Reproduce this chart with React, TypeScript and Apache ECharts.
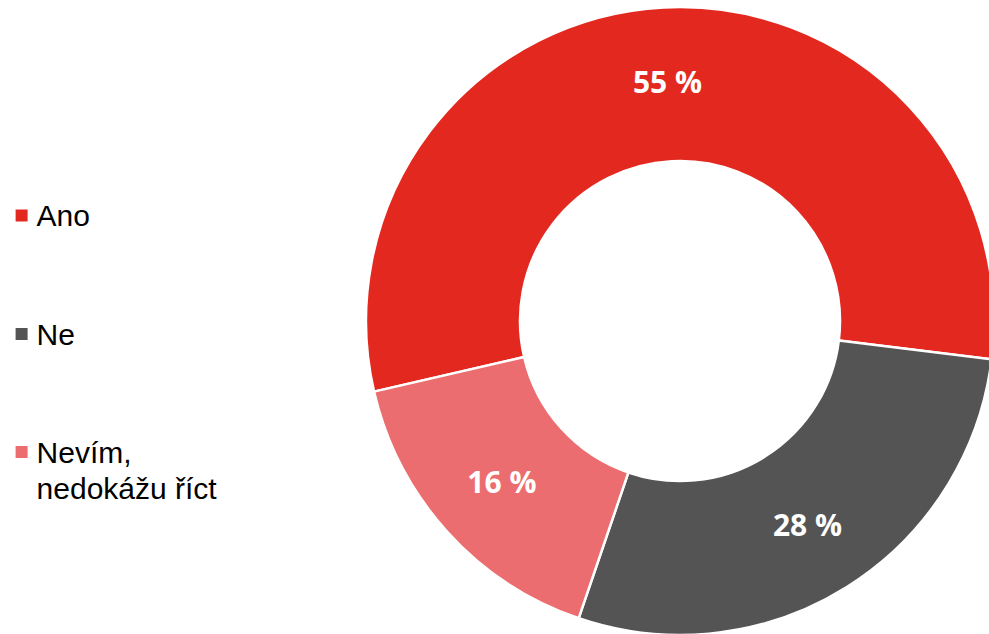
import React, { useEffect, useRef } from "react";
import * as echarts from "echarts";

const categories = ["Ano", "Ne", "Nevím, nedokážu říct"];
const values = [55, 28, 16];
const colors = ["#E3281F", "#545454", "#EC6D6F"];

export default function App() {
  const ref = useRef<HTMLDivElement>(null);
  useEffect(() => {
    if (!ref.current) return;
    const chart = echarts.init(ref.current, null, { renderer: "svg" });
    const legendBase = {
      orient: "vertical" as const,
      left: 13.6,
      padding: 0,
      itemWidth: 14,
      itemHeight: 14,
      itemGap: 10,
      icon: "rect",
      selectedMode: false,
      textStyle: {
        fontFamily: "Liberation Sans, Arial, sans-serif",
        fontSize: 30,
        color: "#000",
        lineHeight: 36,
        padding: [0, 0, 0, 3],
      },
    };
    chart.setOption({
      animation: false,
      color: colors,
      legend: [
        { ...legendBase, top: 197.5, data: [categories[0]] },
        { ...legendBase, top: 316, data: [categories[1]] },
        {
          ...legendBase,
          top: 398,
          data: [categories[2]],
          formatter: () => "\nNevím,\nnedokážu říct",
        },
      ],
      series: [
        {
          type: "pie",
          center: [680, 321],
          radius: [160, 314],
          startAngle: 193,
          clockwise: true,
          itemStyle: { borderColor: "#fff", borderWidth: 2.5 },
          label: {
            show: true,
            position: "inside",
            formatter: (p: any) => `${p.value} %`,
            color: "#fff",
            fontFamily: "Open Sans, sans-serif",
            fontWeight: "bold",
            fontSize: 30,
          },
          labelLine: { show: false },
          emphasis: { disabled: true },
          data: categories.map((c, i) => ({ name: c, value: values[i] })),
        },
      ],
    });
    return () => chart.dispose();
  }, []);
  return (
    <div
      ref={ref}
      style={{ position: "fixed", left: 0, top: 0, width: 989, height: 634, background: "#fff" }}
    />
  );
}
